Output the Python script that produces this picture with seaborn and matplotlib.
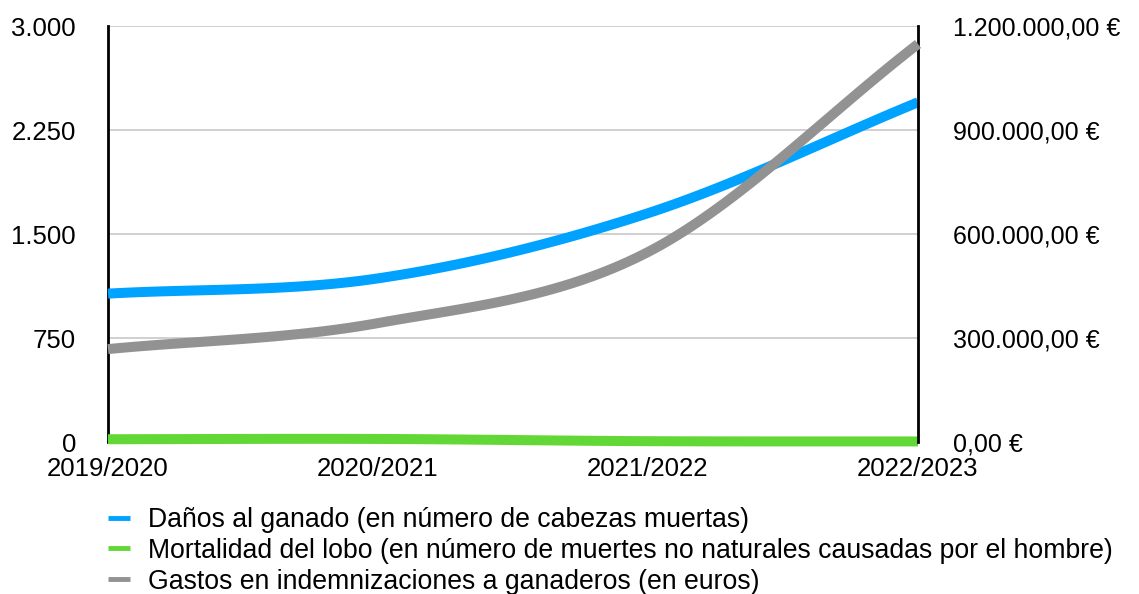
import numpy as np
import pandas as pd
import seaborn as sns
import matplotlib.pyplot as plt
from matplotlib.lines import Line2D
from matplotlib.ticker import FuncFormatter

# values
temporadas = ["2019/2020", "2020/2021", "2021/2022", "2022/2023"]
danos_ganado = [1070, 1180, 1650, 2450]
mortalidad_lobo = [20, 22, 6, 4]
gastos_euros = [268000, 343000, 548000, 1148000]

labels = [
    "Daños al ganado (en número de cabezas muertas)",
    "Mortalidad del lobo (en número de muertes no naturales causadas por el hombre)",
    "Gastos en indemnizaciones a ganaderos (en euros)",
]
colors = ["#00A2FF", "#61D836", "#929292"]


def smooth(y, n=40):
    # catmull-rom curve through the data points (drawing style only)
    y = np.asarray(y, dtype=float)
    x = np.arange(len(y), dtype=float)
    px = np.concatenate([[2 * x[0] - x[1]], x, [2 * x[-1] - x[-2]]])
    py = np.concatenate([[2 * y[0] - y[1]], y, [2 * y[-1] - y[-2]]])
    xs, ys = [], []
    t = np.linspace(0, 1, n)
    for i in range(1, len(px) - 2):
        for arr, out in ((px, xs), (py, ys)):
            p0, p1, p2, p3 = arr[i - 1], arr[i], arr[i + 1], arr[i + 2]
            out.append(0.5 * ((2 * p1) + (-p0 + p2) * t
                              + (2 * p0 - 5 * p1 + 4 * p2 - p3) * t ** 2
                              + (-p0 + 3 * p1 - 3 * p2 + p3) * t ** 3))
    return np.concatenate(xs), np.concatenate(ys)


def miles(v, pos=None):
    return f"{int(round(v)):,}".replace(",", ".")


def euros(v, pos=None):
    s = f"{v:,.2f}"
    s = s.replace(",", "X").replace(".", ",").replace("X", ".")
    return s + " €"


sns.set_style("white")
plt.rcParams["font.family"] = ["Liberation Sans", "DejaVu Sans"]
plt.rcParams["text.color"] = "black"
plt.rcParams["xtick.color"] = "black"
plt.rcParams["ytick.color"] = "black"
fs = 18.5
plt.rcParams["font.size"] = fs

fig = plt.figure(figsize=(11.39, 5.94), dpi=100)
ax = fig.add_axes([108 / 1139, 1 - 442 / 594, 810 / 1139, 416 / 594])
ax2 = ax.twinx()

lw = 7.2
for serie, col in ((danos_ganado, colors[0]), (mortalidad_lobo, colors[1])):
    sx, sy = smooth(serie)
    sns.lineplot(x=sx, y=sy, ax=ax, color=col, linewidth=lw, solid_capstyle="butt",
                 zorder=3, clip_on=False)
gx, gy = smooth(gastos_euros)
sns.lineplot(x=gx, y=gy, ax=ax2, color=colors[2], linewidth=lw, solid_capstyle="butt",
             zorder=3, clip_on=False)

ax.set_xlim(0, len(temporadas) - 1)
ax.set_ylim(0, 3000)
ax2.set_ylim(0, 1200000)
ax.set_yticks([0, 750, 1500, 2250, 3000])
ax2.set_yticks([0, 300000, 600000, 900000, 1200000])
ax.yaxis.set_major_formatter(FuncFormatter(miles))
ax2.yaxis.set_major_formatter(FuncFormatter(euros))
ax.set_xticks(range(len(temporadas)))
ax.set_xticklabels(temporadas)

ax.grid(axis="y", color="#c8c8c8", linewidth=1.2)
ax.grid(axis="x", visible=False)
ax2.grid(False)
ax.set_axisbelow(True)

ax.spines["top"].set_visible(False)
ax2.spines["top"].set_visible(False)
ax.spines["left"].set_color("black")
ax.spines["left"].set_linewidth(2)
ax.spines["right"].set_visible(False)
ax.spines["bottom"].set_color("black")
ax.spines["bottom"].set_linewidth(1.2)
ax2.spines["left"].set_visible(False)
ax2.spines["bottom"].set_visible(False)
ax2.spines["right"].set_color("black")
ax2.spines["right"].set_linewidth(2)

ax.tick_params(axis="y", length=0, pad=23, labelsize=fs, labelcolor="black")
ax2.tick_params(axis="y", length=0, pad=25, labelsize=fs - 0.5, labelcolor="black")
ax.tick_params(axis="x", length=0, pad=11, labelsize=fs, labelcolor="black")
ax.set_xlabel("")
ax.set_ylabel("")
ax2.set_ylabel("")

handles = [Line2D([0], [0], color=c, linewidth=3.5, solid_capstyle="butt") for c in colors]
fig.legend(handles, labels, loc="upper left", bbox_to_anchor=(108 / 1139, 1 - 507 / 594),
           frameon=False, fontsize=19.2, handlelength=0.82, handletextpad=0.68,
           labelspacing=0.18, borderaxespad=0, borderpad=0, labelcolor="black")

fig.savefig("out.png", dpi=100)
